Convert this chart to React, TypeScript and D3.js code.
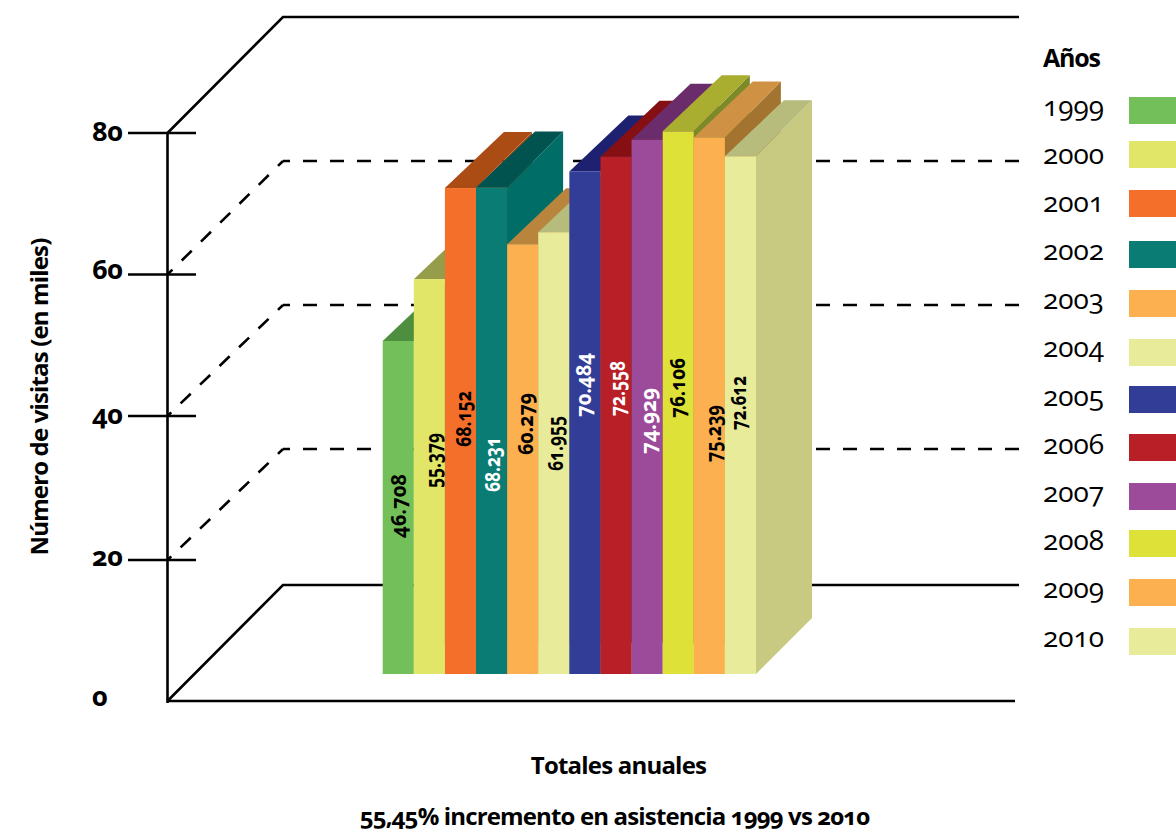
import React from "react";
import * as d3 from "d3";

// Annual attendance, in thousands of visits
const years = ["1999", "2000", "2001", "2002", "2003", "2004", "2005", "2006", "2007", "2008", "2009", "2010"];
const visits = [46.708, 55.379, 68.152, 68.231, 60.279, 61.955, 70.484, 72.558, 74.929, 76.106, 75.239, 72.612];
const valueLabels = ["46.708", "55.379", "68.152", "68.231", "60.279", "61.955", "70.484", "72.558", "74.929", "76.106", "75.239", "72.612"];
const frontColors = ["#73c05a", "#e1e668", "#f46f2a", "#0a7c74", "#fcb050", "#e8eb9a", "#323d98", "#b81f27", "#9c4a9a", "#dde138", "#fcb050", "#e8eb9a"];
const topColors = ["#4e8f3f", "#959c4a", "#aa4c14", "#015350", "#b9843c", "#b6bc7c", "#1e2170", "#860f13", "#6a2c6a", "#a9ae30", "#cf9244", "#b7bc7c"];
const sideColors = ["#4e8f3f", "#959c4a", "#aa4c14", "#006e67", "#b9843c", "#b6bc7c", "#1e2170", "#860f13", "#6a2c6a", "#7c8a28", "#a27430", "#c7ca80"];
const labelColors = ["#000", "#000", "#000", "#fff", "#000", "#000", "#fff", "#fff", "#fff", "#000", "#000", "#000"];
const yTicks = [0, 20, 40, 60, 80];

// Hand placement of the running text inside each bar and of the legend rows
const labelX = [398, 433, 463, 492, 525, 555, 583, 617, 648, 677, 713, 738];
const labelY = [538, 488, 447, 492, 455, 471, 417, 416, 454, 418, 462, 430];
const labelLength = [64, 55, 56, 55, 62, 55, 64, 55, 66, 60, 57, 54];
const legendTop = [97, 141, 190, 241, 290, 339, 386, 434, 483, 530, 579, 628];
const legendBase = [116, 164, 212, 260, 309, 357, 406, 454, 502, 550, 598, 647];
const tickBase = [706, 566, 424, 279, 141];

const FONT = "'Open Sans', sans-serif";
const OLD_NUMS: React.CSSProperties = { fontVariantNumeric: "oldstyle-nums", fontFeatureSettings: "'onum' 1" };

export default function App() {
  const wallY = d3.scaleLinear().domain([0, 20, 40, 60, 80]).range([701, 560, 416, 274.5, 133]);
  const backY = d3.scaleLinear().domain([0, 20, 80]).range([585, 449, 17]);
  const barY = d3.scaleLinear().domain([0, 80]).range([674, 674 - 80 * 7.13]);
  const barX = d3.scaleBand<string>().domain(years).range([382.7, 756]).paddingInner(0);

  const wallLeft = 167.5;
  const backLeft = 283;
  const depthLeft = 59;
  const depthRight = 56;
  const depthUp = 56;
  const line = d3.line();

  return (
    <svg width={1176} height={831} style={{ position: "absolute", left: 0, top: 0, fontFamily: FONT }}>
      <rect width={1176} height={831} fill="#fff" />

      {/* Back wall and floor outline */}
      <g fill="none" stroke="#000" strokeWidth={2.6}>
        <path d={line([[wallLeft, wallY(80)], [backLeft, backY(80)], [1019, backY(80)]]) ?? ""} />
        <path d={line([[wallLeft, wallY(0)], [backLeft, backY(0)], [1019, backY(0)]]) ?? ""} />
        <path d={line([[wallLeft, wallY(0)], [1015, wallY(0)]]) ?? ""} />
        <path d={line([[wallLeft, wallY(80)], [wallLeft, wallY(0) + 2]]) ?? ""} />
      </g>

      {/* Dashed guides, each leg dashed outward from the corner */}
      <g fill="none" stroke="#000" strokeWidth={2.6} strokeDasharray="14 13" strokeDashoffset={7}>
        {yTicks.filter((t) => t > 0 && t < 80).map((t) => (
          <g key={t}>
            <path d={line([[backLeft, backY(t)], [1019, backY(t)]]) ?? ""} />
            <path d={line([[backLeft, backY(t)], [wallLeft, wallY(t)]]) ?? ""} />
          </g>
        ))}
      </g>

      {/* Axis ticks and labels */}
      {yTicks.map((t, i) => (
        <g key={t}>
          {t > 0 && <line x1={128} x2={196} y1={wallY(t)} y2={wallY(t)} stroke="#000" strokeWidth={2.6} />}
          <text x={92} y={tickBase[i]} fontSize={27} fontWeight={700} letterSpacing={-0.4} style={OLD_NUMS}>{t}</text>
        </g>
      ))}

      {/* Bars, painted left to right so each front covers its neighbour's side */}
      {years.map((year, i) => {
        const x0 = barX(year) ?? 0;
        const x1 = x0 + barX.bandwidth();
        const yTop = barY(visits[i]);
        const yBase = barY(0);
        const top = line([[x0, yTop], [x1, yTop], [x1 + depthRight, yTop - depthUp], [x0 + depthLeft, yTop - depthUp]]);
        const side = line([[x1, yTop], [x1 + depthRight, yTop - depthUp], [x1 + depthRight, yBase - depthUp], [x1, yBase]]);
        return (
          <g key={year}>
            <path d={`${side}Z`} fill={sideColors[i]} />
            <path d={`${top}Z`} fill={topColors[i]} />
            <rect x={x0} y={yTop} width={barX.bandwidth()} height={yBase - yTop} fill={frontColors[i]} />
          </g>
        );
      })}

      {/* Values written up each bar */}
      {years.map((year, i) => (
        <text
          key={year}
          transform={`translate(${labelX[i] + 8},${labelY[i]}) rotate(-90)`}
          fontSize={22}
          fontWeight={700}
          textLength={labelLength[i]}
          lengthAdjust="spacingAndGlyphs"
          fill={labelColors[i]}
          style={OLD_NUMS}
        >
          {valueLabels[i]}
        </text>
      ))}

      {/* Year legend */}
      <text x={1043} y={67} fontSize={25} fontWeight={700} letterSpacing={-1.2}>Años</text>
      {years.map((year, i) => (
        <g key={year}>
          <text x={1043} y={legendBase[i]} fontSize={28} style={OLD_NUMS}>{year}</text>
          <rect x={1129} y={legendTop[i]} width={47} height={27} fill={frontColors[i]} />
        </g>
      ))}

      {/* Titles */}
      <text transform="translate(48,397) rotate(-90)" textAnchor="middle" fontSize={24} fontWeight={700} letterSpacing={-0.85}>Número de visitas (en miles)</text>
      <text x={618.5} y={774} textAnchor="middle" fontSize={24} fontWeight={700} letterSpacing={-0.8}>Totales anuales</text>
      <text x={614.5} y={825} textAnchor="middle" fontSize={24} fontWeight={700} letterSpacing={-0.85} style={OLD_NUMS}>55,45% incremento en asistencia 1999 vs 2010</text>
    </svg>
  );
}
